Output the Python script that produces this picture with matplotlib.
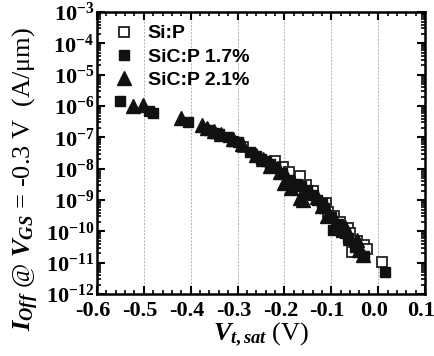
import numpy as np
import matplotlib
matplotlib.use("Agg")
import matplotlib.pyplot as plt
import matplotlib.transforms as mtrans
from matplotlib.ticker import MultipleLocator, LogLocator, NullFormatter, FuncFormatter

plt.rcParams['font.family'] = 'Liberation Serif'
plt.rcParams['font.weight'] = 'bold'
plt.rcParams['mathtext.fontset'] = 'custom'
plt.rcParams['mathtext.rm'] = 'Liberation Serif:bold'
plt.rcParams['mathtext.it'] = 'Liberation Serif:italic:bold'
plt.rcParams['mathtext.bf'] = 'Liberation Serif:bold'

# Si:P (open squares)
sip_v = [-0.289, -0.22, -0.203, -0.19, -0.167, -0.154, -0.14, -0.112, -0.107, -0.095,
         -0.082, -0.065, -0.061, -0.056, -0.045, -0.03, -0.024, 0.008]
sip_log = [-7.30, -7.75, -7.95, -8.10, -8.22, -8.53, -8.70, -9.10, -9.39, -9.50,
           -9.71, -9.90, -10.06, -10.67, -10.30, -10.45, -10.57, -10.99]

# SiC:P 1.7% (filled squares)
sic17_v = [-0.551, -0.49, -0.48, -0.406, -0.36, -0.34, -0.32, -0.30, -0.274, -0.26,
           -0.24, -0.22, -0.205, -0.19, -0.175, -0.152, -0.14, -0.13, -0.115, -0.10,
           -0.097, -0.08, -0.065, -0.05, -0.03, 0.014, -0.35, -0.31, -0.25, -0.23,
           -0.165, -0.12, -0.085, -0.07]
sic17_log = [-5.84, -6.15, -6.23, -6.51, -6.75, -6.90, -7.00, -7.15, -7.47, -7.60,
             -7.75, -7.95, -8.15, -8.35, -8.50, -8.69, -8.85, -9.00, -9.25, -9.55,
             -9.96, -10.00, -10.20, -10.50, -10.80, -11.31, -6.85, -7.10, -7.70, -7.85,
             -8.55, -9.10, -9.75, -10.05]

# SiC:P 2.1% (filled triangles)
sic21_v = [-0.523, -0.502, -0.42, -0.376, -0.365, -0.35, -0.335, -0.31, -0.29, -0.26,
           -0.245, -0.23, -0.21, -0.195, -0.18, -0.167, -0.16, -0.145, -0.131, -0.12,
           -0.105, -0.09, -0.075, -0.06, -0.046, -0.04, -0.033, -0.2, -0.185, -0.11,
           -0.07]
sic21_log = [-6.00, -5.97, -6.39, -6.61, -6.70, -6.80, -6.90, -7.05, -7.20, -7.55,
             -7.70, -7.90, -8.10, -8.30, -8.45, -8.94, -9.00, -8.75, -8.91, -9.20,
             -9.45, -9.70, -9.95, -10.20, -10.28, -10.60, -10.76, -8.45, -8.60, -9.50,
             -9.85]

fig = plt.figure(figsize=(4.35, 3.56), dpi=100)
ax = fig.add_axes([0.223, 0.174, 0.754, 0.792])

ax.semilogy(sip_v, 10.0 ** np.array(sip_log), 's', ms=7.5, mfc='white', mec='#222222',
            mew=1.3, ls='none', label='Si:P', zorder=3)
ax.semilogy(sic17_v, 10.0 ** np.array(sic17_log), 's', ms=7.5, color='#111111',
            ls='none', label='SiC:P 1.7%', zorder=4)
ax.semilogy(sic21_v, 10.0 ** np.array(sic21_log), '^', ms=9.5, color='#111111',
            ls='none', label='SiC:P 2.1%', zorder=4)

ax.set_xlim(-0.6, 0.1)
ax.set_ylim(1e-12, 1e-3)
ax.xaxis.set_major_locator(MultipleLocator(0.1))
ax.xaxis.set_minor_locator(MultipleLocator(0.02))
ax.xaxis.set_major_formatter(FuncFormatter(lambda v, p: '%.1f' % (0.0 if abs(v) < 1e-9 else v)))
ax.yaxis.set_major_locator(LogLocator(base=10, numticks=20))
ax.yaxis.set_minor_locator(LogLocator(base=10, subs=np.arange(2, 10), numticks=20))
ax.yaxis.set_minor_formatter(NullFormatter())

ax.tick_params(which='both', direction='in', top=True, right=True, labelsize=16, width=1.5)
ax.tick_params(which='major', length=6)
ax.tick_params(which='minor', length=3, width=1.2)
ax.tick_params(axis='x', pad=5)
ax.tick_params(axis='y', pad=2)
for s in ax.spines.values():
    s.set_linewidth(1.8)

ax.grid(axis='x', which='major', ls=(0, (3, 2)), lw=0.5, color='#999999')

ax.set_xlabel(r'$\mathit{V}_{\mathit{t,sat}}$ (V)', fontsize=19, labelpad=0)
ax.set_ylabel(r'$\mathit{I}_{\mathit{Off}}$ @ $\mathit{V}_{\mathit{GS}}$ = -0.3 V  (A/μm)',
              fontsize=19)
ax.yaxis.set_label_coords(-0.17, 0.41)

leg = ax.legend(loc='upper left', frameon=False, handletextpad=0.45, borderaxespad=0.25,
                labelspacing=0.3, handlelength=1.5,
                prop={'family': 'Liberation Sans', 'weight': 'bold', 'size': 14})

# the x tick labels sit a little left of their ticks
shift = mtrans.ScaledTranslation(-4 / 100, 0, fig.dpi_scale_trans)
for lab in ax.get_xticklabels():
    lab.set_transform(lab.get_transform() + shift)

fig.savefig('out.png', dpi=100)
